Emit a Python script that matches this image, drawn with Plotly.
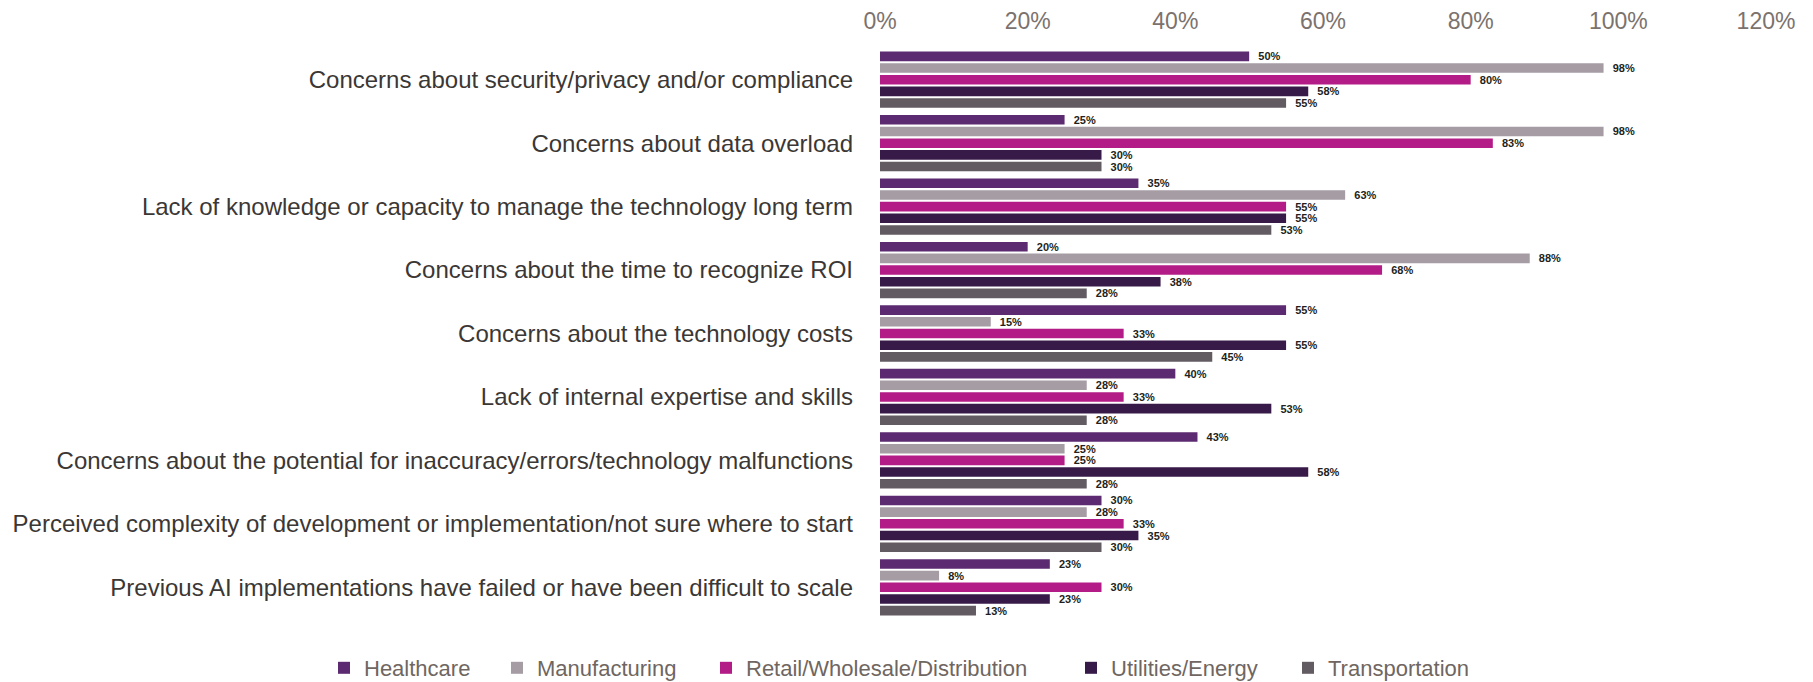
import plotly.graph_objects as go

# Survey: obstacles to AI adoption, share of respondents by industry
categories = [
    "Concerns about security/privacy and/or compliance",
    "Concerns about data overload",
    "Lack of knowledge or capacity to manage the technology long term",
    "Concerns about the time to recognize ROI",
    "Concerns about the technology costs",
    "Lack of internal expertise and skills",
    "Concerns about the potential for inaccuracy/errors/technology malfunctions",
    "Perceived complexity of development or implementation/not sure where to start",
    "Previous AI implementations have failed or have been difficult to scale",
]

healthcare = [50, 25, 35, 20, 55, 40, 43, 30, 23]
manufacturing = [98, 98, 63, 88, 15, 28, 25, 28, 8]
retail = [80, 83, 55, 68, 33, 33, 25, 33, 30]
utilities = [58, 30, 55, 38, 55, 53, 58, 35, 23]
transportation = [55, 30, 53, 28, 45, 28, 28, 30, 13]

series_names = ["Healthcare", "Manufacturing", "Retail/Wholesale/Distribution",
                "Utilities/Energy", "Transportation"]
series_values = [healthcare, manufacturing, retail, utilities, transportation]
series_colors = ["#5b2a70", "#a59ca4", "#b31c86", "#371a48", "#625b62"]

x_ticks = [0, 20, 40, 60, 80, 100, 120]

FONT = "Liberation Sans, Arial, sans-serif"
W, H = 1813, 682
ML, MR, MT, MB = 880, 47, 48, 63
plot_w = W - ML - MR
plot_h = H - MT - MB

# legend entry left edges (pixels), converted to paper coordinates
legend_left_px = [324, 497, 706, 1071, 1288]
legend_keys = ["legend", "legend2", "legend3", "legend4", "legend5"]

fig = go.Figure()
for name, vals, color, lk in zip(series_names, series_values, series_colors, legend_keys):
    fig.add_trace(go.Bar(
        name=name,
        y=categories,
        x=vals,
        orientation="h",
        marker=dict(color=color, line=dict(width=0)),
        text=[f"  {v}%" for v in vals],
        textposition="outside",
        constraintext="none",
        cliponaxis=False,
        textfont=dict(family=FONT, size=11, color="#231f20", weight="bold"),
        legend=lk,
    ))

layout_legends = {}
for lk, px in zip(legend_keys, legend_left_px):
    layout_legends[lk] = dict(
        x=(px - ML) / plot_w,
        xanchor="left",
        y=-(668 - (H - MB)) / plot_h,
        yanchor="middle",
        orientation="h",
        font=dict(family=FONT, size=22, color="#6f6661"),
        bgcolor="rgba(0,0,0,0)",
        borderwidth=0,
    )

fig.update_layout(
    width=W, height=H,
    margin=dict(l=ML, r=MR, t=MT, b=MB, autoexpand=False),
    paper_bgcolor="white",
    plot_bgcolor="white",
    barmode="group",
    bargap=0.08,
    bargroupgap=0.18,
    font=dict(family=FONT),
    showlegend=True,
    xaxis=dict(
        range=[0, 120],
        side="top",
        tickvals=x_ticks,
        ticktext=[f"{t}%" for t in x_ticks],
        showgrid=False,
        zeroline=False,
        showline=False,
        ticks="",
        ticklabelstandoff=13,
        tickfont=dict(family=FONT, size=23, color="#7b726d"),
    ),
    yaxis=dict(
        autorange="reversed",
        showgrid=False,
        zeroline=False,
        showline=False,
        ticks="",
        ticklabelstandoff=26,
        tickfont=dict(family=FONT, size=24, color="#3b3735"),
    ),
    **layout_legends,
)

fig.write_html("out.html")
